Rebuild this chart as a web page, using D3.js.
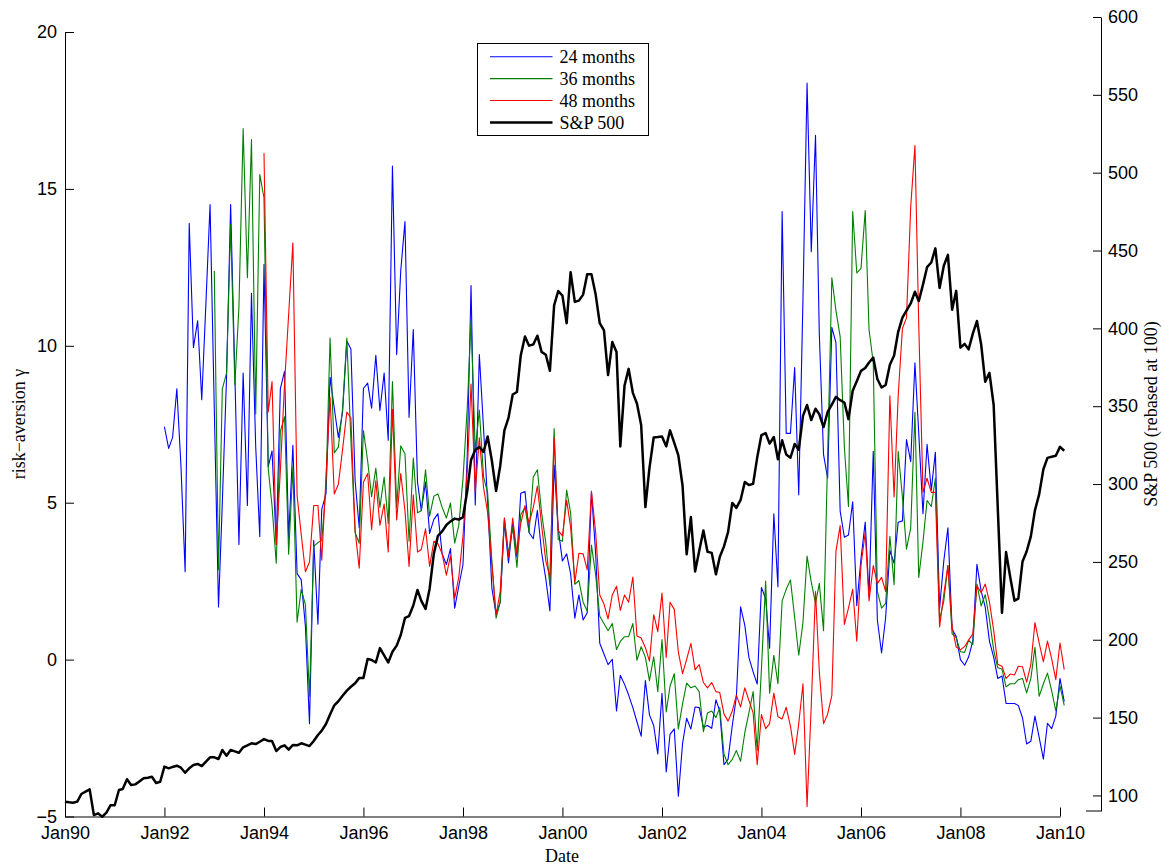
<!DOCTYPE html>
<html lang="en">
<head>
<meta charset="UTF-8">
<title>Risk aversion and the S&amp;P 500</title>
<script src="https://cdn.jsdelivr.net/npm/d3@7"></script>
<style>
  body { margin: 0; background: #fff; }
  svg { font-family: "Liberation Serif", "Times New Roman", serif; font-size: 18px; }
  .axis path, .axis line { stroke: #000; stroke-width: 1; }
  .axis text { font-size: 18px; fill: #000; }
  .series { fill: none; stroke-linejoin: round; }
</style>
</head>
<body>
<script>
// monthly values
var spStart = new Date(1990, 0, 1);
var sp500 = [
  96.0, 95.6, 95.3, 96.0, 100.9, 102.4, 103.9, 87.4, 88.5, 86.3,
  88.9, 93.7, 93.7, 103.5, 104.1, 110.4, 106.7, 107.1, 109.0, 111.0,
  111.4, 112.0, 108.0, 108.8, 118.5, 117.4, 118.3, 119.1, 117.8, 114.6,
  117.4, 119.5, 120.2, 118.9, 121.7, 124.5, 124.5, 123.4, 129.2, 125.5,
  129.2, 128.3, 127.4, 130.9, 132.2, 133.5, 133.0, 134.5, 136.2, 135.0,
  135.0, 128.5, 131.1, 132.2, 129.4, 132.4, 132.2, 133.5, 132.6, 131.7,
  135.0, 138.8, 141.6, 145.9, 152.0, 157.9, 160.5, 164.0, 167.3, 169.8,
  172.0, 175.5, 175.5, 187.7, 187.0, 185.4, 194.6, 190.0, 185.4, 192.3,
  196.2, 203.0, 214.0, 215.2, 222.0, 232.0, 225.0, 219.8, 232.8, 255.3,
  266.8, 269.6, 273.7, 276.0, 277.8, 277.2, 278.8, 295.5, 315.4, 321.9,
  323.8, 320.7, 330.6, 315.0, 295.5, 311.6, 334.5, 342.5, 357.5, 359.1,
  382.6, 394.8, 388.9, 389.6, 395.3, 384.9, 383.1, 372.8, 414.8, 424.0,
  421.0, 403.3, 436.1, 417.0, 417.8, 421.7, 434.7, 434.7, 421.7, 403.3,
  398.7, 370.0, 391.2, 384.9, 324.2, 363.2, 374.0, 358.6, 351.7, 337.9,
  285.2, 310.4, 329.9, 330.2, 330.6, 324.2, 334.5, 326.5, 318.4, 298.9,
  254.9, 278.8, 243.9, 257.0, 270.2, 256.5, 255.8, 242.0, 253.1, 260.0,
  269.1, 287.9, 284.7, 289.8, 301.3, 299.4, 300.1, 317.0, 331.5, 332.7,
  326.0, 330.2, 316.0, 328.1, 319.0, 316.9, 325.7, 322.1, 343.8, 350.8,
  341.1, 348.4, 344.8, 336.6, 346.3, 351.0, 356.0, 353.9, 352.4, 341.7,
  359.9, 366.0, 372.7, 374.5, 378.1, 381.2, 367.5, 362.0, 363.6, 376.6,
  382.6, 397.8, 406.9, 411.4, 416.0, 423.5, 417.5, 428.1, 439.3, 442.3,
  451.4, 426.0, 440.2, 447.2, 412.0, 424.1, 387.6, 390.0, 386.5, 396.6,
  404.7, 389.8, 365.7, 371.4, 350.8, 285.0, 217.3, 256.3, 240.0, 225.1,
  226.4, 250.3, 256.7, 266.4, 283.1, 293.4, 309.5, 316.8, 317.5, 318.2,
  323.9, 321.4
];

var ra24Start = new Date(1992, 0, 1);
var ra24 = [
  7.42, 6.73, 7.08, 8.63, 6.2, 2.80,
  13.9, 9.94, 10.8, 8.28, 11.4, 14.5, 8.0, 1.68, 5.0, 9.0,
  14.5, 9.1, 3.67, 9.13, 4.91, 11.67, 6.8, 3.92, 12.6, 6.15,
  6.65, 3.67, 8.63, 9.19, 3.86, 6.83, 2.74, 2.55, 1.06, -2.04,
  3.80, 1.13, 4.79, 5.28, 9.0, 8.01, 7.08, 7.89, 10.15, 9.90,
  5.70, 4.20, 8.64, 8.81, 8.01, 9.70, 7.94, 9.13, 6.99, 15.73,
  9.72, 12.4, 13.96, 7.72, 10.52, 5.66, 4.75, 5.66, 4.02, 4.47,
  4.65, 3.37, 3.03, 3.54, 1.64, 2.34, 3.03, 6.5, 11.92, 4.93,
  9.72, 7.35, 5.01, 2.28, 1.43, 1.83, 4.39, 3.08, 4.34, 3.26,
  5.30, 5.36, 4.05, 3.85, 4.76, 3.42, 2.57, 1.55, 6.2, 4.17,
  3.14, 3.37, 2.74, 1.32, 2.06, 1.26, 1.49, 5.36, 3.37, 0.52,
  0.18, -0.16, 0.01, -1.64, -0.50, -0.79, -1.13, -1.53, -1.98, -2.44,
  -0.67, -1.76, -2.10, -3.01, -1.07, -3.58, -2.38, -2.21, -4.35, -2.67,
  -1.87, -2.21, -1.51, -1.53, -2.15, -2.10, -2.19, -1.28, -1.64, -3.35,
  -3.18, -2.10, -1.19, 1.68, 1.09, 0.07, -0.39, -0.78, 2.30, 1.94,
  0.36, 4.65, 2.32, 14.28, 7.21, 7.21, 9.31, 5.25, 11.5, 18.37,
  13.0, 16.71, 10.37, 6.53, 5.78, 10.59, 10.1, 4.73, 3.90, 3.97,
  5.03, 1.72, 3.22, 4.38, 2.02, 6.64, 1.27, 0.21, 1.34, 3.48,
  3.07, 4.38, 4.42, 7.01, 6.31, 9.46, 7.21, 4.65, 6.86, 5.40,
  6.61, 1.64, 3.15, 4.2, 0.97, 0.74, 0.0, -0.18, 0.08, 0.59,
  3.04, 2.19, 1.67, 0.59, 0.08, -0.60, -0.52, -1.40, -1.40, -1.40,
  -1.46, -1.86, -2.69, -2.60, -1.80, -2.48, -3.17, -2.03, -2.20, -1.80,
  -0.60, -1.34
];

var ra36Start = new Date(1993, 0, 1);
var ra36 = [
  12.38, 2.86, 8.63, 9.13,
  13.87, 8.76, 11.24, 16.92, 12.17, 16.57, 7.83, 15.46, 14.71, 6.09,
  4.9, 3.07, 7.27, 7.74, 3.36, 6.15, 1.19, 2.24, 1.75, -1.17,
  3.61, 3.73, 3.80, 5.5, 10.25, 6.59, 6.77, 8.0, 10.25, 7.0,
  4.05, 3.71, 7.30, 6.33, 5.19, 6.10, 4.85, 5.82, 4.34, 8.86,
  4.85, 6.81, 6.56, 3.77, 6.42, 4.68, 4.74, 6.05, 4.57, 5.21,
  5.28, 4.85, 4.51, 4.99, 3.71, 4.28, 5.76, 8.0, 10.8, 6.67,
  7.95, 5.82, 5.31, 3.14, 1.32, 1.83, 4.51, 3.37, 4.22, 2.94,
  4.62, 4.85, 4.05, 5.82, 6.05, 4.68, 3.71, 2.35, 7.36, 3.83,
  3.77, 5.40, 4.68, 2.40, 2.52, 1.83, 1.55, 3.65, 2.69, 1.38,
  1.15, 0.92, 1.15, 0.32, 0.58, 0.73, 0.73, 1.15, -0.02, 0.41,
  0.07, -0.67, 0.09, -1.02, 0.64, -1.67, -0.85, -0.45, -2.21, -1.41,
  -0.75, -0.90, -0.84, -1.02, -2.30, -1.70, -1.64, -1.85, -1.53, -3.01,
  -3.35, -3.18, -2.90, -3.24, -2.33, -1.70, -1.02, -2.90, -0.3, 2.50,
  -1.07, 0.14, -0.77, 1.87, 2.24, 2.54, 1.34, 0.14, 1.19, 3.30,
  2.47, 1.79, 2.43, 0.92, 6.46, 12.17, 11.12, 10.29, 6.76, 4.88,
  14.28, 12.32, 12.47, 14.31, 10.52, 9.46, 2.17, 1.64, 1.79, 3.93,
  2.39, 6.64, 5.18, 3.52, 4.20, 7.88, 2.62, 3.75, 5.07, 4.88,
  5.78, 1.27, 1.87, 3.0, 0.82, 0.7, 0.25, 0.23, 0.62, 0.48,
  2.41, 1.71, 2.07, 1.28, 0.31, -0.26, -0.30, -0.87, -0.77, -0.77,
  -0.64, -0.60, -1.06, -0.60, 0.39, -1.17, -0.77, -0.43, -1.0, -1.63,
  -0.84, -1.46
];

var ra48Start = new Date(1994, 0, 1);
var ra48 = [
  16.14, 7.89,
  8.86, 3.67, 6.0, 8.8, 11.0, 13.28, 5.22, 4.0, 2.80, 3.11,
  4.91, 4.91, 3.17, 5.8, 8.36, 5.28, 5.59, 6.7, 7.89, 7.70,
  4.11, 2.91, 5.65, 5.93, 4.14, 5.70, 4.28, 4.96, 3.43, 7.98,
  4.45, 5.93, 4.74, 2.97, 5.25, 3.43, 3.51, 4.17, 2.97, 3.77,
  3.69, 3.37, 2.69, 3.31, 1.95, 2.63, 3.94, 6.0, 8.78, 5.36,
  7.07, 5.48, 4.68, 3.03, 1.43, 2.17, 4.51, 3.26, 4.51, 3.37,
  4.34, 4.91, 4.34, 4.85, 5.53, 4.28, 3.14, 2.63, 7.07, 4.11,
  3.94, 5.08, 4.22, 2.46, 3.39, 3.37, 2.86, 5.36, 4.05, 2.06,
  1.77, 1.30, 2.06, 2.34, 1.57, 2.06, 1.83, 2.63, 0.75, 0.69,
  0.38, -0.05, 1.43, 0.89, 2.12, 0.07, 1.83, 1.60, 0.24, -0.45,
  0.01, 0.52, -0.33, -0.16, -0.73, -0.90, -0.73, -1.02, -1.05, -1.73,
  -1.96, -1.64, -1.13, -1.51, -0.90, -1.30, -1.70, -3.35, -1.75, -2.20,
  -2.04, -1.07, -1.82, -1.89, -1.52, -2.12, -3.02, -2.04, -0.77, -4.68,
  -1.44, 2.17, -0.39, -2.04, -1.74, -1.14, 3.45, 4.27, 1.12, 1.64,
  2.24, 0.59, 3.0, 4.05, 1.87, 3.0, 2.42, 2.62, 2.17, 8.41,
  5.18, 8.41, 10.55, 10.89, 14.43, 16.38, 10.67, 5.33, 5.78, 5.33,
  5.33, 1.04, 2.09, 3.0, 1.04, 0.4, 0.31, 0.42, 0.62, 0.82,
  2.36, 2.13, 2.41, 1.84, 0.93, -0.15, -0.21, -0.60, -0.46, -0.49,
  -0.21, -0.23, -0.72, -0.15, 1.18, 0.53, -0.07, 0.59, 0.02, -0.64,
  0.53, -0.32
];

var seriesNames = ["24 months", "36 months", "48 months", "S&P 500"];
var leftTicks = [-5, 0, 5, 10, 15, 20];
var rightTicks = [100, 150, 200, 250, 300, 350, 400, 450, 500, 550, 600];

var width = 1165, height = 867;
var svg = d3.select("body").append("svg")
    .attr("width", width)
    .attr("height", height);

var x = d3.scaleTime()
    .domain([new Date(1990, 0, 1), new Date(2010, 0, 1)])
    .range([65, 1060]);
var yL = d3.scaleLinear().domain([-5, 20]).range([816.5, 32]);
var yR = d3.scaleLinear().domain([90, 600]).range([811, 17]);

function monthly(start, values) {
    return values.map(function(v, i) {
        return { date: d3.timeMonth.offset(start, i), value: v };
    });
}

var lineL = d3.line().x(function(d) { return x(d.date); }).y(function(d) { return yL(d.value); });
var lineR = d3.line().x(function(d) { return x(d.date); }).y(function(d) { return yR(d.value); });

var colored = [
    { name: seriesNames[0], color: "#0000ff", data: monthly(ra24Start, ra24) },
    { name: seriesNames[1], color: "#008000", data: monthly(ra36Start, ra36) },
    { name: seriesNames[2], color: "#ff0000", data: monthly(ra48Start, ra48) }
];

svg.append("g").selectAll("path")
    .data(colored)
    .enter()
    .append("path")
    .attr("class", "series")
    .attr("stroke", function(d) { return d.color; })
    .attr("stroke-width", 1.1)
    .attr("d", function(d) { return lineL(d.data); });

svg.append("path")
    .attr("class", "series")
    .attr("stroke", "#000")
    .attr("stroke-width", 2.5)
    .attr("d", lineR(monthly(spStart, sp500)));

// axes
var xAxis = d3.axisBottom(x)
    .tickValues(d3.timeYear.range(new Date(1990, 0, 1), new Date(2010, 0, 2), 2))
    .tickFormat(d3.timeFormat("Jan%y"))
    .tickSizeInner(-9).tickSizeOuter(0).tickPadding(10);
svg.append("g").attr("class", "axis")
    .attr("transform", "translate(0," + yL(-5) + ")")
    .call(xAxis);

svg.append("g").attr("class", "axis")
    .attr("transform", "translate(65,0)")
    .call(d3.axisLeft(yL).tickValues(leftTicks).tickSizeInner(-9).tickSizeOuter(0).tickPadding(8));

svg.append("g").attr("class", "axis")
    .attr("transform", "translate(1101,0)")
    .call(d3.axisRight(yR).tickValues(rightTicks).tickSizeInner(-8).tickSizeOuter(0).tickPadding(7));

svg.append("line")
    .attr("x1", 1086).attr("x2", 1101)
    .attr("y1", yR.range()[0]).attr("y2", yR.range()[0])
    .attr("stroke", "#000");

svg.selectAll(".axis .domain").attr("stroke", "#000");

// axis titles
svg.append("text")
    .attr("transform", "translate(25,424) rotate(-90)")
    .attr("text-anchor", "middle")
    .text("risk\u2212aversion \u03b3");

svg.append("text")
    .attr("transform", "translate(1157,414) rotate(-90)")
    .attr("text-anchor", "middle")
    .text("S&P 500 (rebased at 100)");

svg.append("text")
    .attr("x", 562).attr("y", 862)
    .attr("text-anchor", "middle")
    .text("Date");

// legend
var legend = svg.append("g").attr("transform", "translate(477.5,43.5)");
legend.append("rect")
    .attr("width", 171).attr("height", 92)
    .attr("fill", "#fff").attr("stroke", "#000");

var legendItems = colored.map(function(d) { return { name: d.name, color: d.color, w: 1.1 }; })
    .concat([{ name: seriesNames[3], color: "#000", w: 2.5 }]);

var row = legend.selectAll("g.row")
    .data(legendItems)
    .enter()
    .append("g")
    .attr("class", "row")
    .attr("transform", function(d, i) { return "translate(0," + (13.2 + i * 21.9) + ")"; });

row.append("line")
    .attr("x1", 12.5).attr("x2", 75)
    .attr("stroke", function(d) { return d.color; })
    .attr("stroke-width", function(d) { return d.w; });

row.append("text")
    .attr("x", 82)
    .attr("dy", "0.35em")
    .text(function(d) { return d.name; });
</script>
</body>
</html>
